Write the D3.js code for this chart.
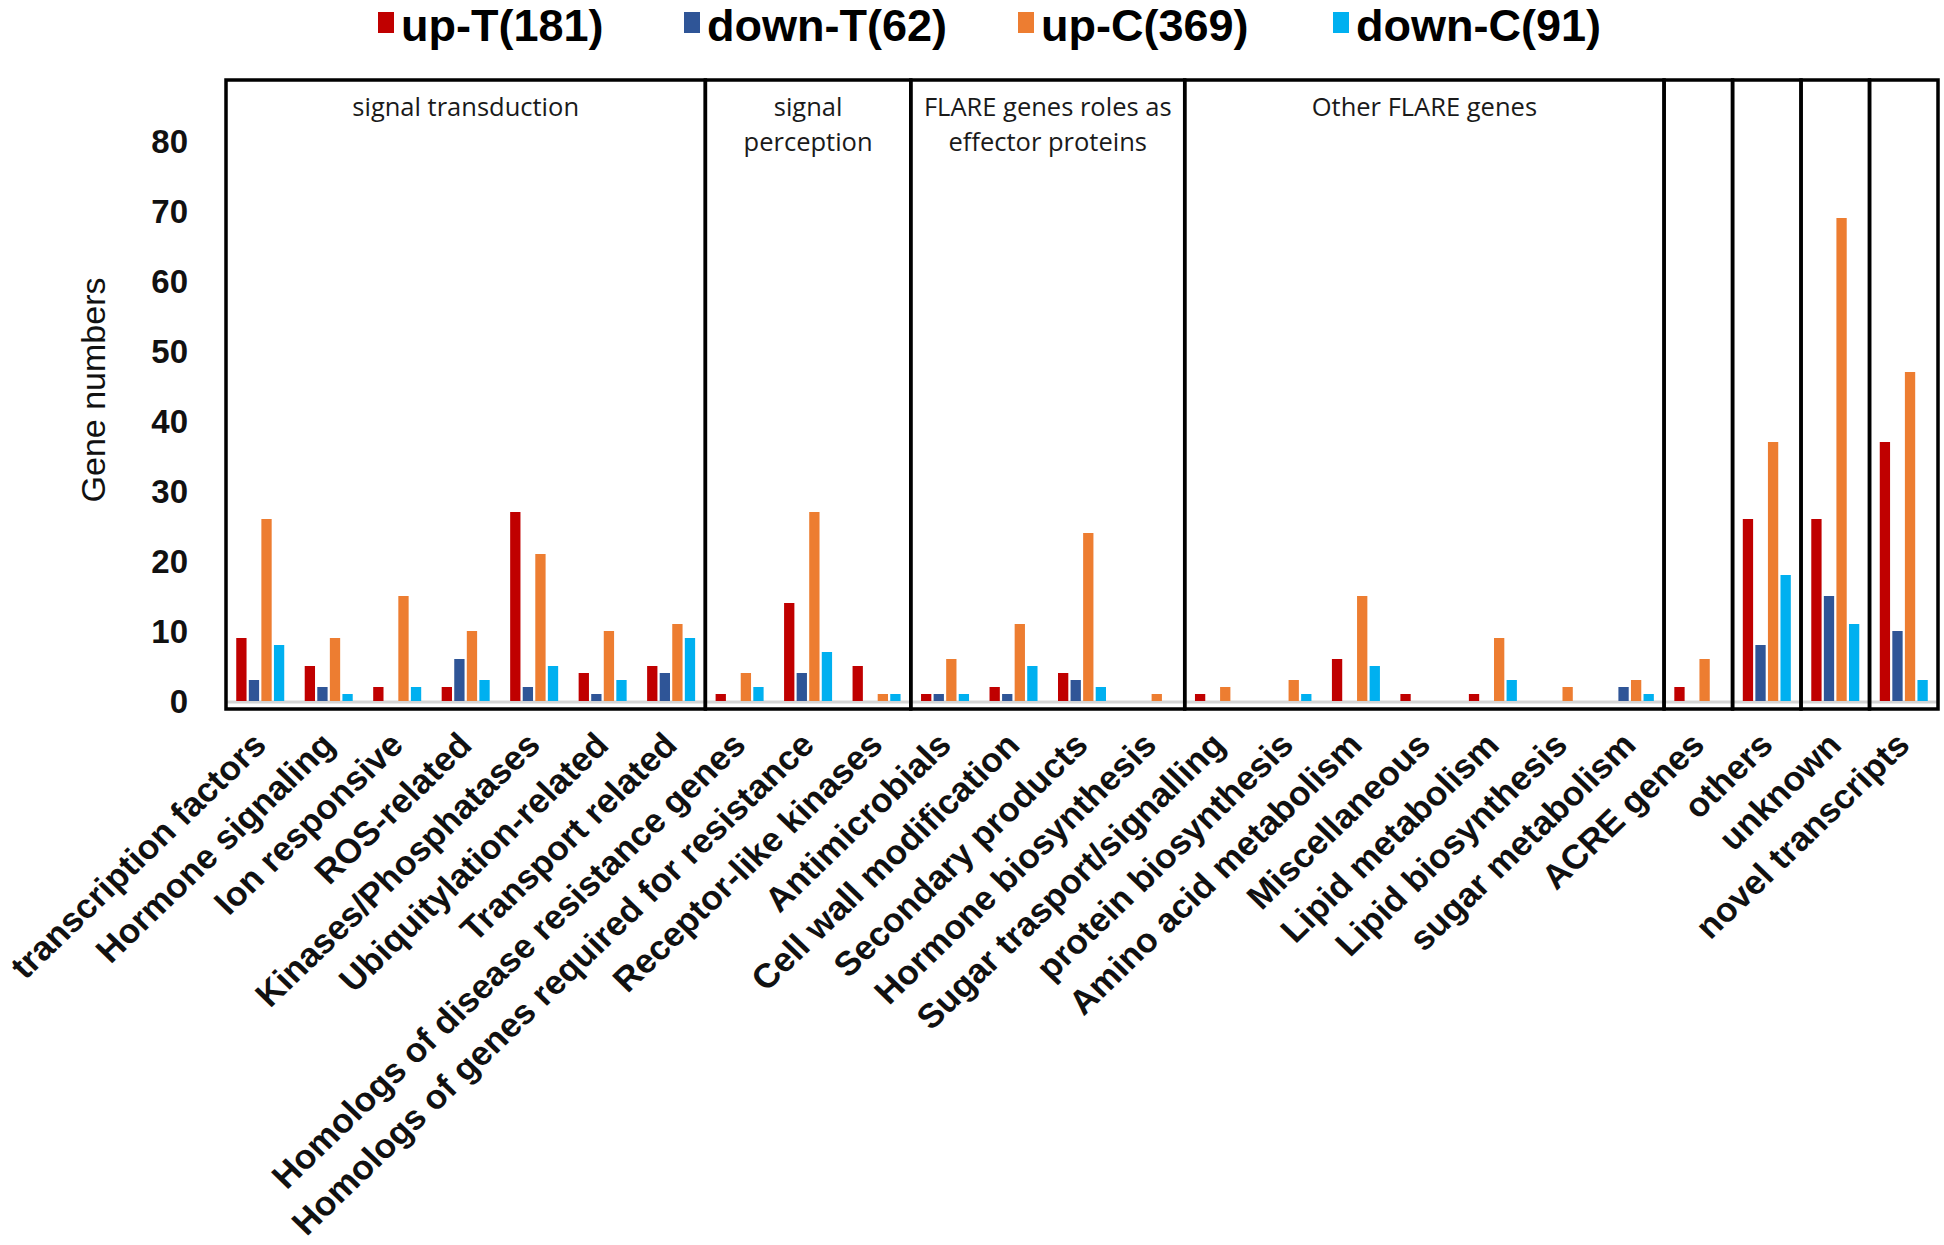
<!DOCTYPE html>
<html><head><meta charset="utf-8">
<script src="https://cdn.jsdelivr.net/npm/d3@7"></script>
<style>body{margin:0;background:#fff}svg{display:block}</style>
</head><body><svg id="c" width="1944" height="1245"></svg>
<script>
const categories = ["transcription factors","Hormone signaling","Ion responsive","ROS-related","Kinases/Phosphatases","Ubiquitylation-related","Transport related",
  "Homologs of disease resistance genes","Homologs of genes required for resistance","Receptor-like kinases",
  "Antimicrobials","Cell wall modification","Secondary products","Hormone biosynthesis",
  "Sugar trasport/signalling","protein biosynthesis","Amino acid metabolism","Miscellaneous","Lipid metabolism","Lipid biosynthesis","sugar metabolism",
  "ACRE genes","others","unknown","novel transcripts"];
const sectionTitles = [["signal transduction"],["signal","perception"],["FLARE genes roles as","effector proteins"],["Other FLARE genes"],[],[],[],[]];
const sectionSizes = [7,3,4,7,1,1,1,1];
const seriesNames = ["up-T(181)","down-T(62)","up-C(369)","down-C(91)"];
const seriesColors = ["#C00000","#2F5597","#ED7D31","#00B0F0"];
const upT   = [9,5,2,2,27,4,5, 1,14,5, 1,2,4,0, 1,0,6,1,1,0,0, 2, 26,26,37];
const downT = [3,2,0,6,2,1,4, 0,4,0, 1,1,3,0, 0,0,0,0,0,0,2, 0, 8,15,10];
const upC   = [26,9,15,10,21,10,11, 4,27,1, 6,11,24,1, 2,3,15,0,9,2,3, 6, 37,69,47];
const downC = [8,1,2,3,5,3,9, 2,7,1, 1,5,2,0, 0,1,5,0,3,0,1, 0, 18,11,3];
const yTicks = [0,10,20,30,40,50,60,70,80];
const yLabel = "Gene numbers";

const seriesValues = [upT, downT, upC, downC];
const svg = d3.select("#c");
const frameTop = 80, frameBottom = 709, left = 226, right = 1938;
const x = d3.scaleBand().domain(categories).range([left, right]).padding(0);
const x1 = d3.scaleBand().domain(seriesNames).range([-24, 24]).paddingInner(0.18);
const y = d3.scaleLinear().domain([0, 80]).range([701, 141]);

// zero line
svg.append("line").attr("x1", left).attr("x2", right).attr("y1", y(0)+1).attr("y2", y(0)+1)
  .attr("stroke", "#d4d4d4").attr("stroke-width", 3);

// bars
const rows = categories.map((c, i) => ({c, vals: seriesNames.map((s, j) => ({s, v: seriesValues[j][i], color: seriesColors[j]}))}));
const g = svg.append("g");
g.selectAll("g.cat").data(rows).join("g").attr("class", "cat")
  .attr("transform", d => `translate(${x(d.c) + x.bandwidth()/2},0)`)
  .selectAll("rect").data(d => d.vals.filter(e => e.v > 0)).join("rect")
  .attr("x", d => x1(d.s)).attr("width", x1.bandwidth())
  .attr("y", d => y(d.v)).attr("height", d => y(0) - y(d.v))
  .attr("fill", d => d.color);

// section frames
let start = 0;
sectionSizes.forEach((n, k) => {
  const x0 = left + start * x.step(), xEnd = left + (start + n) * x.step();
  svg.append("rect").attr("x", x0).attr("y", frameTop).attr("width", xEnd - x0).attr("height", frameBottom - frameTop)
    .attr("fill", "none").attr("stroke", "#000").attr("stroke-width", 3.5);
  const cx = (x0 + xEnd) / 2;
  sectionTitles[k].forEach((t, r) => {
    svg.append("text").attr("x", cx).attr("y", 116 + r * 35).attr("text-anchor", "middle")
      .attr("font-family", "'Open Sans', sans-serif").attr("font-size", 25.5).attr("fill", "#1a1a1a").text(t);
  });
  start += n;
});

// y ticks
svg.append("g").selectAll("text").data(yTicks).join("text")
  .attr("x", 188).attr("y", d => y(d)).attr("dy", "0.36em").attr("text-anchor", "end")
  .attr("font-family", "'Liberation Sans', Arial, sans-serif").attr("font-weight", "bold").attr("font-size", 33)
  .attr("fill", "#111").text(d => d);

svg.append("text").attr("transform", "translate(105,390) rotate(-90)").attr("text-anchor", "middle")
  .attr("font-family", "'Liberation Sans', Arial, sans-serif").attr("font-size", 34).attr("fill", "#111").text(yLabel);

// x labels
svg.append("g").selectAll("text").data(categories).join("text")
  .attr("transform", d => `translate(${x(d) + x.bandwidth()/2 + 8},747) scale(1.04,1) rotate(-45)`)
  .attr("text-anchor", "end")
  .attr("font-family", "'Liberation Sans', Arial, sans-serif").attr("font-weight", "bold").attr("font-size", 34)
  .attr("fill", "#111").text(d => d);

// legend
const legX = [401, 707, 1041, 1356];
const leg = svg.append("g").selectAll("g").data(seriesNames).join("g")
  .attr("transform", (d, i) => `translate(${legX[i]},0)`);
leg.append("rect").attr("x", -23).attr("y", 12).attr("width", 16).attr("height", 21).attr("fill", (d, i) => seriesColors[i]);
leg.append("text").attr("x", 0).attr("y", 41)
  .attr("font-family", "'Liberation Sans', Arial, sans-serif").attr("font-weight", "bold").attr("font-size", 45)
  .attr("fill", "#000").text(d => d);
</script></body></html>
